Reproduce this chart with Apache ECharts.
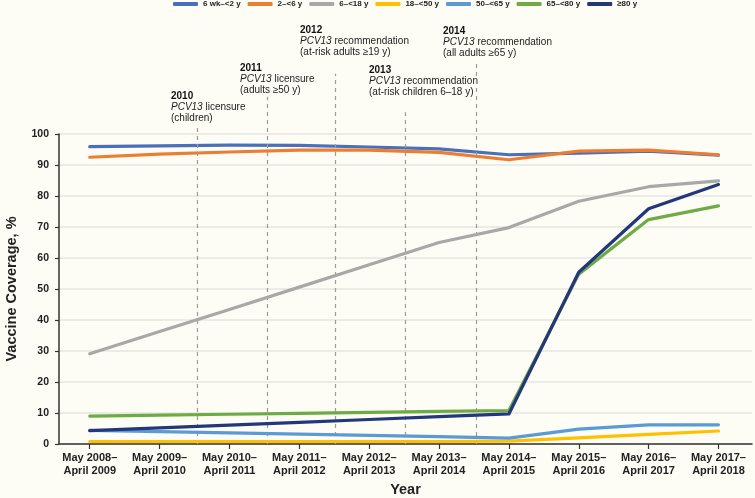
<!DOCTYPE html>
<html>
<head>
<meta charset="utf-8">
<script src="https://cdn.jsdelivr.net/npm/echarts@6/dist/echarts.min.js"></script>
<style>html,body{margin:0;padding:0;background:#fdfdf6;}#c{width:755px;height:498px;}</style>
</head>
<body>
<div id="c"></div>
<script>
const xLabels = ['May 2008–\nApril 2009','May 2009–\nApril 2010','May 2010–\nApril 2011','May 2011–\nApril 2012','May 2012–\nApril 2013','May 2013–\nApril 2014','May 2014–\nApril 2015','May 2015–\nApril 2016','May 2016–\nApril 2017','May 2017–\nApril 2018'];
const yTicks = [0,10,20,30,40,50,60,70,80,90,100];
const seriesNames = ['6 wk–<2 y','2–<6 y','6–<18 y','18–<50 y','50–<65 y','65–<80 y','≥80 y'];
const age6wk  = [95.9, 96.2, 96.4, 96.3, 95.8, 95.2, 93.3, 93.8, 94.5, 93.2];
const age2to6 = [92.5, 93.5, 94.2, 94.8, 94.8, 94.1, 91.7, 94.5, 94.8, 93.3];
const age6to18 = [29.1, 36.3, 43.4, 50.6, 57.8, 65.0, 69.8, 78.3, 83.0, 84.9];
const age18to50 = [0.8, 0.8, 0.8, 0.8, 0.8, 0.8, 0.9, 2.0, 3.1, 4.2];
const age50to65 = [4.4, 4.0, 3.6, 3.2, 2.8, 2.4, 1.9, 4.8, 6.2, 6.2];
const age65to80 = [9.0, 9.3, 9.6, 9.9, 10.2, 10.5, 10.8, 54.8, 72.4, 76.8];
const age80plus = [4.3, 5.2, 6.1, 7.0, 7.9, 8.8, 9.7, 55.4, 75.9, 83.7];
const eventPos = [1.54, 2.54, 3.52, 4.51, 5.53];
const eventYears = ['2010','2011','2012','2013','2014'];
const eventKinds = ['licensure','licensure','recommendation','recommendation','recommendation'];
const eventNotes = ['(children)','(adults ≥50 y)','(at-risk adults ≥19 y)','(at-risk children 6–18 y)','(all adults ≥65 y)'];

const colors = ['#4a70bb','#ed7d31','#a8a8a6','#ffc000','#5b9bd5','#6eab45','#22387a'];
const allData = [age6wk, age2to6, age6to18, age18to50, age50to65, age65to80, age80plus];

// layout (not data)
const lineTops = [102.3, 112, 119.4, 107, 122.6];
const noteBoxes = [[171,91],[240,63],[300,25],[369,64.5],[443,26]];

const sans = '"Liberation Sans",Arial,sans-serif';

const chart = echarts.init(document.getElementById('c'), null, {renderer:'canvas'});
const xMin = -0.44, xMax = 9.48;

const series = seriesNames.map((n,i)=>({
  name:n, type:'line', xAxisIndex:0, yAxisIndex:0,
  data: allData[i].map((v,j)=>[j,v]),
  showSymbol:false, symbol:'none',
  lineStyle:{color:colors[i], width:3.2, cap:'round', join:'round'},
  itemStyle:{color:colors[i]}, z: 3+i
}));
series.push({
  type:'line', xAxisIndex:1, yAxisIndex:1, data:[], silent:true,
  markLine:{
    symbol:['none','none'], silent:true, animation:false,
    label:{show:false},
    lineStyle:{color:'#9a9a9a', type:[4,4], width:1.2},
    data: eventPos.map((p,i)=>[{coord:[p,0]},{coord:[p,lineTops[i]]}])
  }
});

const graphics = eventYears.map((y,i)=>({
  type:'text', left:noteBoxes[i][0], top:noteBoxes[i][1], silent:true,
  style:{
    text:'{b|'+y+'}\n{i|PCV13} '+eventKinds[i]+'\n'+eventNotes[i],
    font:'10px '+sans, fill:'#222', lineHeight:11,
    rich:{ b:{fontWeight:'bold', fontSize:10, fontFamily:sans, lineHeight:11, fill:'#111'},
           i:{fontStyle:'italic', fontSize:10, fontFamily:sans, lineHeight:11, fill:'#222'} }
  }
}));

chart.setOption({
  animation:false,
  backgroundColor:'#fdfdf6',
  color: colors,
  legend:{
    left:173, top:0, padding:0, itemGap:7, itemWidth:25, itemHeight:4, icon:'roundRect',
    data: seriesNames,
    textStyle:{fontFamily:sans, fontWeight:'bold', fontSize:8, color:'#222'}
  },
  grid:[
    {left:59, right:3, top:134, bottom:54, containLabel:false, outerBoundsMode:'none'},
    {left:59, right:3, top:10, bottom:54, containLabel:false, outerBoundsMode:'none'}
  ],
  xAxis:[{
    type:'value', min:xMin, max:xMax, gridIndex:0,
    name:'Year', nameLocation:'middle', nameGap:36,
    nameTextStyle:{fontFamily:sans, fontWeight:'bold', fontSize:14.5, color:'#222'},
    axisLine:{show:true, onZero:false, lineStyle:{color:'#333', width:1.5}},
    axisTick:{show:true, length:5, lineStyle:{color:'#333', width:1.2}, customValues: xLabels.map((_,i)=>i)},
    axisLabel:{customValues: xLabels.map((_,i)=>i), formatter:(v)=>xLabels[Math.round(v)], margin:7,
      fontFamily:sans, fontWeight:'bold', fontSize:11, color:'#222', lineHeight:13.5},
    splitLine:{show:false}
  },{
    type:'value', min:xMin, max:xMax, gridIndex:1, show:false
  }],
  yAxis:[{
    type:'value', min:0, max:100, interval:10, gridIndex:0,
    name:'Vaccine Coverage, %', nameLocation:'middle', nameGap:40,
    nameTextStyle:{fontFamily:sans, fontWeight:'bold', fontSize:14.5, color:'#222'},
    axisLine:{show:true, onZero:false, lineStyle:{color:'#333', width:1.5}},
    axisTick:{show:true, length:4, lineStyle:{color:'#333', width:1.2}},
    axisLabel:{margin:10, fontFamily:sans, fontWeight:'bold', fontSize:10.5, color:'#222',
      formatter:(v)=> yTicks.includes(v) ? String(v) : ''},
    splitLine:{show:true, lineStyle:{color:'#e6e6e2', width:1.5}}
  },{
    type:'value', min:0, max:140, gridIndex:1, show:false
  }],
  series: series,
  graphic: graphics
});
</script>
</body>
</html>
